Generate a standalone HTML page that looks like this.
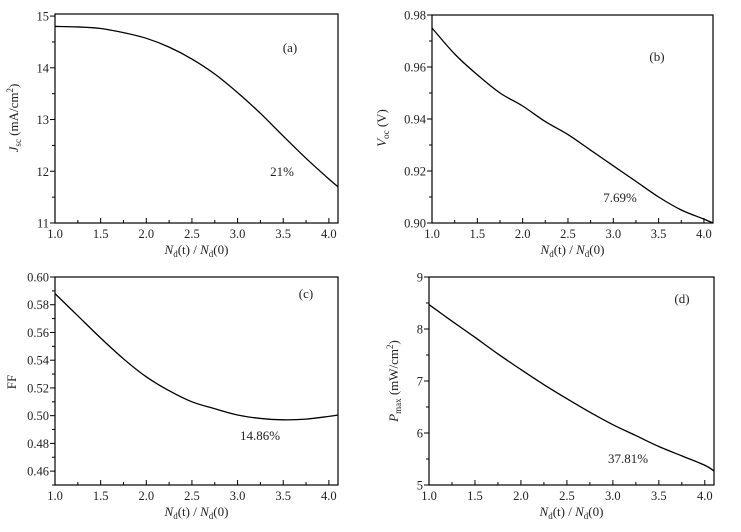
<!DOCTYPE html>
<html><head><meta charset="utf-8">
<style>
html,body{margin:0;padding:0;background:#fff;}
svg{display:block;font-family:"Liberation Serif",serif;}
</style></head>
<body>
<svg id="chart" width="741" height="532" viewBox="0 0 741 532" xmlns="http://www.w3.org/2000/svg"></svg>
<script>
const xValues = [1.0,1.25,1.5,1.75,2.0,2.25,2.5,2.75,3.0,3.25,3.5,3.75,4.0,4.1];
const jscValues = [14.8,14.79,14.76,14.68,14.57,14.4,14.17,13.88,13.52,13.12,12.68,12.25,11.85,11.7];
const vocValues = [0.975,0.965,0.957,0.950,0.945,0.939,0.934,0.928,0.922,0.916,0.910,0.905,0.9015,0.900];
const ffValues = [0.588,0.572,0.556,0.541,0.528,0.518,0.510,0.505,0.5005,0.498,0.497,0.4975,0.4995,0.5005];
const pmaxValues = [8.47,8.15,7.84,7.52,7.22,6.93,6.66,6.40,6.16,5.95,5.74,5.56,5.38,5.27];
const xTicks = ["1.0","1.5","2.0","2.5","3.0","3.5","4.0"];
const yTicksA = ["11","12","13","14","15"];
const yTicksB = ["0.90","0.92","0.94","0.96","0.98"];
const yTicksC = ["0.46","0.48","0.50","0.52","0.54","0.56","0.58","0.60"];
const yTicksD = ["5","6","7","8","9"];

const NS="http://www.w3.org/2000/svg";
const svg=document.getElementById('chart');
function mk(tag,attrs,parent,text){const e=document.createElementNS(NS,tag);for(const k in attrs)e.setAttribute(k,attrs[k]);if(text!==undefined)e.textContent=text;(parent||svg).appendChild(e);return e;}

const panels=[
 {id:'a',L:55,R:338,T:14,B:223,y0:11,y1:15,yTop:15.04,minorY:0.5,vals:jscValues,yt:yTicksA,label:'(a)',lx:290,ly:52,pct:'21%',px:282,py:176,yt2:['J','sc',' (mA/cm','2',')'],tx:18,ty:118},
 {id:'b',L:432,R:713,T:15,B:223,y0:0.90,y1:0.98,yTop:0.98,minorY:0.01,vals:vocValues,yt:yTicksB,label:'(b)',lx:657,ly:61,pct:'7.69%',px:620,py:202,yt2:['V','oc',' (V)'],tx:386,ty:128},
 {id:'c',L:55,R:338,T:277,B:485,y0:0.45,y1:0.60,yTop:0.60,minorY:0.01,vals:ffValues,yt:yTicksC,label:'(c)',lx:306,ly:298,pct:'14.86%',px:260,py:440,yt2:['FF'],tx:16,ty:382},
 {id:'d',L:429,R:714,T:277,B:485,y0:5,y1:9,yTop:9,minorY:0.5,vals:pmaxValues,yt:yTicksD,label:'(d)',lx:682,ly:303,pct:'37.81%',px:628,py:463,yt2:['P','max',' (mW/cm','2',')'],tx:398,ty:381}
];
panels.forEach(p=>{
  const g=mk('g',{});
  
  
  const yMax=Math.max(p.y1,p.yTop);
  const sx=v=>p.L+(v-1.0)/(4.1-1.0)*(p.R-p.L);
  const sy=v=>p.B-(v-p.y0)/(yMax-p.y0)*(p.B-p.T);
  const fr=mk('rect',{x:p.L,y:p.T,width:p.R-p.L,height:p.B-p.T,fill:'none',stroke:'#000','stroke-width':1.2},g);
  
  
  // x ticks
  for(let v=1.0;v<=4.1001;v+=0.25){
    const major=Math.abs(v*2-Math.round(v*2))<1e-6;
    const x=sx(v);
    mk('line',{x1:x,x2:x,y1:p.B,y2:p.B-(major?5:3),stroke:'#000','stroke-width':1},g);
  }
  xTicks.forEach(t=>{
    const tl=mk('text',{x:sx(parseFloat(t)),y:p.B+15,'text-anchor':'middle','font-size':12.5,fill:'#222'},g,t);
    
    
  });
  // y ticks
  const nMin=Math.round((yMax-p.y0)/p.minorY);
  for(let i=0;i<=nMin;i++){
    const v=p.y0+i*p.minorY;const y=sy(v);
    const major=p.yt.some(t=>Math.abs(parseFloat(t)-v)<1e-6);
    mk('line',{x1:p.L,x2:p.L-(major?5:3),y1:y,y2:y,stroke:'#000','stroke-width':1},g);
  }
  p.yt.forEach(t=>{
    const tl=mk('text',{x:p.L-6,y:sy(parseFloat(t))+4.5,'text-anchor':'end','font-size':12.5,fill:'#222'},g,t);
    
    
  });
  // x title
  const xt=mk('text',{x:(p.L+p.R)/2,y:p.B+31,'text-anchor':'middle','font-size':13,fill:'#222'},g);
  
  
  [['N','i'],['d','s'],['(t) / ',''],['N','i'],['d','s'],['(0)','']].forEach(([s,st])=>{
    const a={};if(st==='i')a['font-style']='italic';if(st==='s'){a['font-size']=9;a['dy']=3;}
    const ts=mk('tspan',a,xt,s);
    if(st==='s'){ts.setAttribute('data-sub','1');}
  });
  // fix dy resets
  let prevSub=false;xt.querySelectorAll('tspan').forEach(ts=>{if(ts.getAttribute('data-sub')){prevSub=true;}else if(prevSub){ts.setAttribute('dy',-3);prevSub=false;}});
  // y title
  const yt=mk('text',{transform:`translate(${p.tx},${p.ty}) rotate(-90)`,'text-anchor':'middle','font-size':13,fill:'#222'},g);
  
  
  if(p.yt2.length===1){yt.textContent=p.yt2[0];}
  else{
    mk('tspan',{'font-style':'italic'},yt,p.yt2[0]);
    mk('tspan',{'font-size':9,dy:3},yt,p.yt2[1]);
    mk('tspan',{dy:-3},yt,p.yt2[2]);
    if(p.yt2.length>3){mk('tspan',{'font-size':9,dy:-5},yt,p.yt2[3]);mk('tspan',{dy:5},yt,p.yt2[4]);}
  }
  // curve (Catmull-Rom)
  const pts=xValues.map((x,i)=>[sx(x),sy(p.vals[i])]);
  let d=`M${pts[0][0]},${pts[0][1]}`;
  for(let i=0;i<pts.length-1;i++){
    const p0=pts[Math.max(0,i-1)],p1=pts[i],p2=pts[i+1],p3=pts[Math.min(pts.length-1,i+2)];
    const c1=[p1[0]+(p2[0]-p0[0])/6,p1[1]+(p2[1]-p0[1])/6];
    const c2=[p2[0]-(p3[0]-p1[0])/6,p2[1]-(p3[1]-p1[1])/6];
    d+=` C${c1[0]},${c1[1]} ${c2[0]},${c2[1]} ${p2[0]},${p2[1]}`;
  }
  const path=mk('path',{d:d,fill:'none',stroke:'#000','stroke-width':1.3},g);
  
  
  const lb=mk('text',{x:p.lx,y:p.ly,'text-anchor':'middle','font-size':13,fill:'#222'},g,p.label);
  
  
  const pc=mk('text',{x:p.px,y:p.py,'text-anchor':'middle','font-size':13,fill:'#222'},g,p.pct);
  
  
});
</script>
</body></html>
